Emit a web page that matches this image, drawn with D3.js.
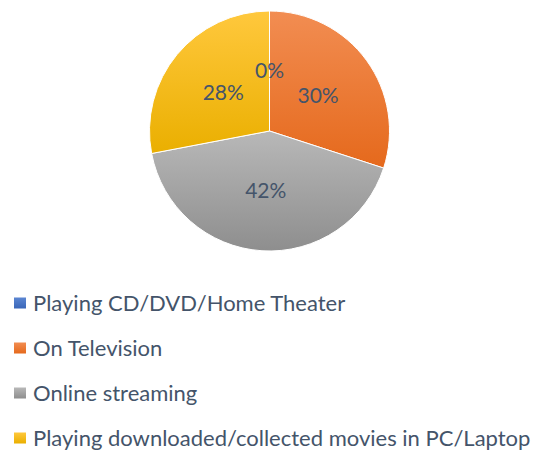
<!DOCTYPE html>
<html>
<head>
<meta charset="utf-8">
<script src="https://cdn.jsdelivr.net/npm/d3@7"></script>
<style>
  body { margin: 0; background: #fff; }
  svg { display: block; }
</style>
</head>
<body>
<svg id="chart" width="537" height="450"></svg>
<script>
// chart data
const categories = ['Playing CD/DVD/Home Theater', 'On Television', 'Online streaming', 'Playing downloaded/collected movies in PC/Laptop'];
const shares = [0, 30, 42, 28];
const labels = ['0%', '30%', '42%', '28%'];
const topColors = ['#5B86D2', '#F28D52', '#B8B8B8', '#FFC83D'];
const bottomColors = ['#3A66B8', '#E5691C', '#8E8E8E', '#EAAF00'];

const svg = d3.select('#chart');
const cx = 269.5, cy = 131, radius = 120;
const textColor = '#44546A';

// gradients for slices and legend keys
const defs = svg.append('defs');
categories.forEach((c, i) => {
  const g = defs.append('linearGradient')
    .attr('id', 'grad' + i)
    .attr('x1', 0).attr('y1', 0).attr('x2', 0).attr('y2', 1);
  g.append('stop').attr('offset', '0%').attr('stop-color', topColors[i]);
  g.append('stop').attr('offset', '100%').attr('stop-color', bottomColors[i]);
});

const pie = d3.pie().sort(null).value(d => d);
const arcs = pie(shares);
const arc = d3.arc().innerRadius(0).outerRadius(radius);
const labelArc = d3.arc().innerRadius(radius * 0.5).outerRadius(radius * 0.5);

const g = svg.append('g').attr('transform', `translate(${cx},${cy})`);

g.selectAll('path')
  .data(arcs)
  .enter()
  .append('path')
  .attr('d', arc)
  .attr('fill', (d, i) => `url(#grad${i})`)
  .attr('stroke', '#fff')
  .attr('stroke-width', d => d.value > 0 ? 1 : 0);

g.selectAll('text')
  .data(arcs)
  .enter()
  .append('text')
  .attr('transform', d => `translate(${labelArc.centroid(d)})`)
  .attr('text-anchor', 'middle')
  .attr('dy', '0.35em')
  .attr('font-family', 'Lato, sans-serif')
  .attr('font-size', 21)
  .attr('fill', textColor)
  .text((d, i) => labels[i]);

// legend
const legend = svg.append('g');
const rowY = d3.scalePoint().domain(categories).range([303, 438]);

const rows = legend.selectAll('g')
  .data(categories)
  .enter()
  .append('g')
  .attr('transform', d => `translate(14,${rowY(d)})`);

rows.append('rect')
  .attr('x', 0).attr('y', -5.5)
  .attr('width', 12).attr('height', 11)
  .attr('fill', (d, i) => `url(#grad${i})`);

rows.append('text')
  .attr('x', 19)
  .attr('dy', '0.35em')
  .attr('font-family', 'Lato, sans-serif')
  .attr('font-size', 22)
  .attr('fill', textColor)
  .text(d => d);
</script>
</body>
</html>
